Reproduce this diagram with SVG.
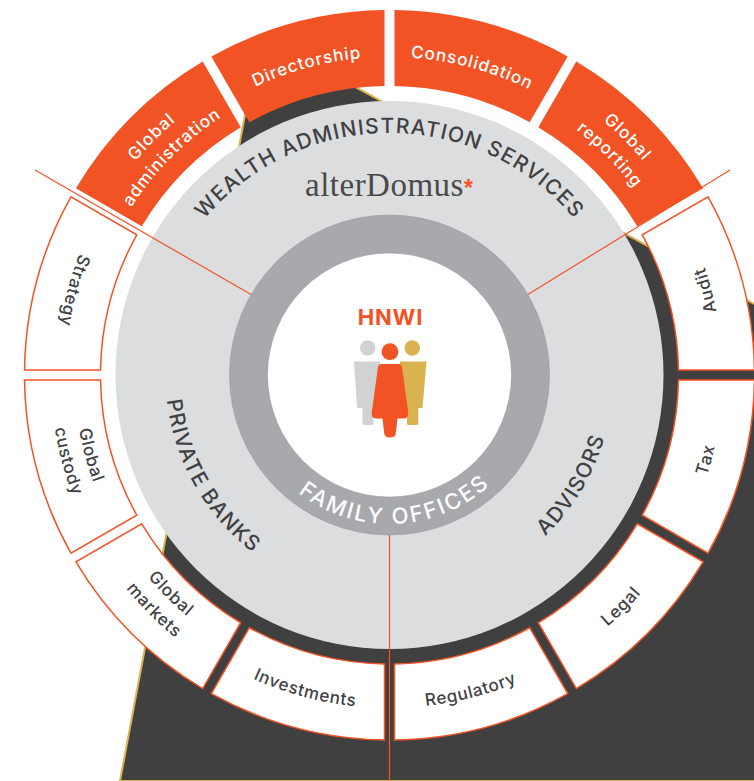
<svg xmlns="http://www.w3.org/2000/svg" width="754" height="781" viewBox="0 0 754 781">
<style>
text{font-family:"Inter","Open Sans","Liberation Sans",sans-serif}
.fill{fill:#f25325}
.out{fill:#fff;stroke:#f25325;stroke-width:1.5}
.w{fill:#fff;font-size:17px;font-weight:500;letter-spacing:.95px;text-anchor:middle}
.d{fill:#3f4144;font-size:17px;font-weight:500;letter-spacing:.7px;text-anchor:middle}
.big{fill:#3f4144;font-size:21px;font-weight:500;letter-spacing:1.3px;text-anchor:middle}
.fam{fill:#fff;font-size:22px;font-weight:500;letter-spacing:2.3px;text-anchor:middle}
.ln{stroke:#f25325;stroke-width:1.2;fill:none}
</style>
<defs>
<path id="s" d="M-89.64,-353.82A365 365 0 0 1 89.64,-353.82L69.97,-280.40A289 289 0 0 0 -69.97,-280.40Z"/>
<path id="c318" d="M-204.41,-243.6A318 318 0 0 1 204.41,-243.6"/>
<path id="c332" d="M-213.41,-254.32A332 332 0 0 1 213.41,-254.32"/>
<path id="c308" d="M-197.98,-235.93A308 308 0 0 1 197.98,-235.93"/>
<path id="a333" d="M214.05,-255.09A333 333 0 0 0 -214.05,-255.09"/>
<path id="a315" d="M202.48,-241.29A315 315 0 0 0 -202.48,-241.29"/>
<path id="a339" d="M217.91,-259.69A339 339 0 0 0 -217.91,-259.69"/>
<path id="c242" d="M-227.41,-82.77A242 242 0 0 1 227.41,-82.77"/>
<path id="a224" d="M193.99,-112A224 224 0 0 0 -193.99,-112"/>
<path id="a149" d="M140.01,-50.96A149 149 0 0 0 -140.01,-50.96"/>
</defs>
<rect width="754" height="781" fill="#fff"/>
<g id="backdrop">
<path d="M120,781L260,35L756,305V781Z" fill="#404040" stroke="#d9b350" stroke-width="2"/>
</g>
<g id="wealth-disc">
<circle cx="389.5" cy="375" r="274" fill="#dcddde"/>
</g>
<g id="connectors">
<path class="ln" d="M35,170L252,295M730,170L527,295M389.5,533V781"/>
</g>
<g id="family-ring">
<circle cx="389.5" cy="375" r="160" fill="#a7a9ac" stroke="#8f9194" stroke-width=".5"/>
<circle cx="389.5" cy="375" r="122" fill="#fff" stroke="#8f9194" stroke-width=".5"/>
</g>
<g transform="translate(389.5,375)">
<g id="wealth-label"><text class="big"><textPath href="#c242" startOffset="50%">WEALTH ADMINISTRATION SERVICES</textPath></text></g>
<g id="private-banks" transform="rotate(-119.5)"><text class="big"><textPath href="#a224" startOffset="50%">PRIVATE BANKS</textPath></text></g>
<g id="advisors" transform="rotate(121)"><text class="big"><textPath href="#a224" startOffset="50%">ADVISORS</textPath></text></g>
<g id="family-offices" transform="rotate(177.5)"><text class="fam"><textPath href="#a149" startOffset="50%">FAMILY OFFICES</textPath></text></g>
<g id="directorship" transform="rotate(-15)"><use href="#s" class="fill"/><text class="w"><textPath href="#c318" startOffset="50%">Directorship</textPath></text></g>
<g id="consolidation" transform="rotate(15)"><use href="#s" class="fill"/><text class="w"><textPath href="#c318" startOffset="50%">Consolidation</textPath></text></g>
<g id="global-administration" transform="rotate(-45)"><use href="#s" class="fill"/><text class="w"><textPath href="#c332" startOffset="50%">Global</textPath></text><text class="w"><textPath href="#c308" startOffset="50%">administration</textPath></text></g>
<g id="global-reporting" transform="rotate(45)"><use href="#s" class="fill"/><text class="w"><textPath href="#c332" startOffset="50%">Global</textPath></text><text class="w"><textPath href="#c308" startOffset="50%">reporting</textPath></text></g>
<g id="strategy" transform="rotate(-75)"><use href="#s" class="out"/><text class="d"><textPath href="#a333" startOffset="50%">Strategy</textPath></text></g>
<g id="global-custody" transform="rotate(-105)"><use href="#s" class="out"/><text class="d"><textPath href="#a315" startOffset="50%">Global</textPath></text><text class="d"><textPath href="#a339" startOffset="50%">custody</textPath></text></g>
<g id="global-markets" transform="rotate(-135)"><use href="#s" class="out"/><text class="d"><textPath href="#a315" startOffset="50%">Global</textPath></text><text class="d"><textPath href="#a339" startOffset="50%">markets</textPath></text></g>
<g id="investments" transform="rotate(-165)"><use href="#s" class="out"/><text class="d"><textPath href="#a333" startOffset="50%">Investments</textPath></text></g>
<g id="regulatory" transform="rotate(165)"><use href="#s" class="out"/><text class="d"><textPath href="#a333" startOffset="49.3%">Regulatory</textPath></text></g>
<g id="legal" transform="rotate(135)"><use href="#s" class="out"/><text class="d"><textPath href="#a333" startOffset="50%">Legal</textPath></text></g>
<g id="tax" transform="rotate(105)"><use href="#s" class="out"/><text class="d"><textPath href="#a333" startOffset="50%">Tax</textPath></text></g>
<g id="audit" transform="rotate(75)"><use href="#s" class="out"/><text class="d"><textPath href="#a333" startOffset="50%">Audit</textPath></text></g>
</g>
<g id="alterdomus">
<text x="305" y="196" style="font-family:'Liberation Serif',serif;font-size:33px;fill:#4a4a4a;letter-spacing:.5px">alterDomus<tspan fill="#f25325" style="font-family:'Liberation Sans',sans-serif;font-weight:700;font-size:23px">*</tspan></text>
</g>
<g id="hnwi">
<text x="390.5" y="324.5" text-anchor="middle" style="font-size:22px;font-weight:700;fill:#f25325;letter-spacing:.8px">HNWI</text>
<circle cx="367.7" cy="348" r="7.7" fill="#d1d2d4"/>
<path d="M354,361.5H380V408H373.5V423.5Q373.5,425 372,425H364Q362.5,425 362.5,423.5V408H358Q357.2,408 357,407Z" fill="#d1d2d4"/>
<circle cx="412.3" cy="348" r="7.7" fill="#d9b350"/>
<path d="M426.5,361.5H400V408H407V423.5Q407,425 408.5,425H416.5Q418.3,425 418.3,423.5V408H421.7Q422.4,408 422.6,407Z" fill="#d9b350"/>
<circle cx="390" cy="351.7" r="8.4" fill="#f25325"/>
<path d="M381.5,364H398.5Q401.5,364 402,367L408.3,413Q408.8,418 404,418.5H397.5L395.7,434Q395,437.5 390,437.5Q385,437.5 384.3,434L382.5,418.5H376Q371.2,418 371.7,413L378,367Q378.5,364 381.5,364Z" fill="#f25325"/>
</g>
</svg>
